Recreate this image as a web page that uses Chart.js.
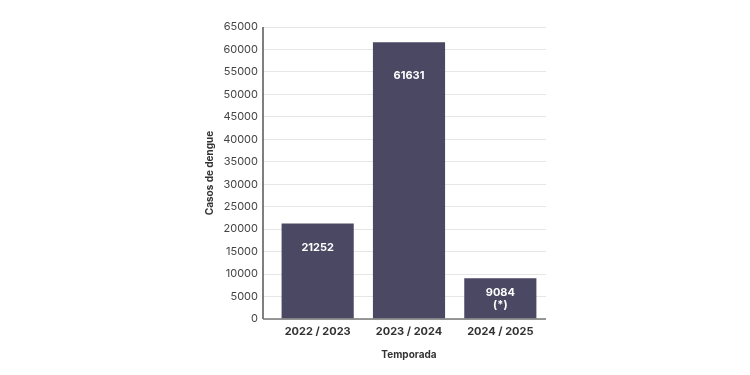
<!DOCTYPE html>
<html><head><meta charset="utf-8">
<script src="https://cdn.jsdelivr.net/npm/chart.js@4"></script>
<style>html,body{margin:0;padding:0;background:#fff}#w{width:750px;height:375px}</style>
</head><body><div id="w"><canvas id="c" width="750" height="375"></canvas></div>
<script>
const categories = ['2022 / 2023', '2023 / 2024', '2024 / 2025'];
const casos = [21252, 61631, 9084];
const valueLabels = [['21252'], ['61631'], ['9084', '(*)']];
const yTicks = [0, 5000, 10000, 15000, 20000, 25000, 30000, 35000, 40000, 45000, 50000, 55000, 60000, 65000];

const FONT = 'Inter, "Liberation Sans", sans-serif';

const extras = {
  id: 'extras',
  afterDatasetsDraw(chart, args, opts) {
    const ctx = chart.ctx, ca = chart.chartArea;
    const meta = chart.getDatasetMeta(0);
    ctx.save();
    ctx.fillStyle = '#ffffff';
    ctx.font = 'bold 11px ' + FONT;
    ctx.textAlign = 'center';
    ctx.textBaseline = 'middle';
    meta.data.forEach((bar, i) => {
      const lines = valueLabels[i];
      const off = opts.offsets[i];
      let cy = off == null ? (bar.y + bar.base) / 2 : bar.y + off;
      const lh = 12;
      lines.forEach((t, k) => {
        ctx.fillText(t, bar.x, cy + (k - (lines.length - 1) / 2) * lh);
      });
    });
    // axis lines
    const ax = ca.left - opts.axisGap;
    ctx.strokeStyle = '#555';
    ctx.lineWidth = 1.5;
    ctx.beginPath();
    ctx.moveTo(ax, ca.top);
    ctx.lineTo(ax, ca.bottom);
    ctx.stroke();
    ctx.strokeStyle = '#777';
    ctx.beginPath();
    ctx.moveTo(ax, ca.bottom);
    ctx.lineTo(ca.right, ca.bottom);
    ctx.stroke();
    ctx.restore();
  }
};

new Chart(document.getElementById('c'), {
  type: 'bar',
  data: {
    labels: categories,
    datasets: [{
      data: casos,
      backgroundColor: '#4a4863',
      borderWidth: 0,
      barPercentage: 0.79,
      categoryPercentage: 1
    }]
  },
  options: {
    responsive: false,
    animation: false,
    devicePixelRatio: 1,
    layout: { padding: { left: 200, right: 204, top: 27, bottom: 0 } },
    plugins: {
      legend: { display: false },
      tooltip: { enabled: false },
      extras: { offsets: [24, 34, null], axisGap: 9 }
    },
    scales: {
      x: {
        grid: { display: false, drawTicks: false },
        border: { display: false },
        ticks: { color: '#333', font: { family: FONT, size: 11, weight: 'bold' }, padding: 6 },
        title: { display: true, text: 'Temporada', color: '#333', font: { family: FONT, size: 10, weight: 'bold' }, padding: { top: 4, bottom: 14 } },
        afterFit(s) { s.height = 56; }
      },
      y: {
        min: 0, max: 65000,
        afterBuildTicks(s) { s.ticks = yTicks.map(v => ({ value: v })); },
        grid: { color: '#e6e6e6', lineWidth: 1, drawTicks: true, tickLength: 9 },
        border: { display: false },
        ticks: { color: '#444', font: { family: FONT, size: 11 }, padding: 5, callback: v => String(v) },
        title: { display: true, text: 'Casos de dengue', color: '#333', font: { family: FONT, size: 10, weight: 'bold' }, padding: { top: 4, bottom: 0 } },
        afterFit(s) { s.width = 72; }
      }
    }
  },
  plugins: [extras]
});
</script></body></html>
